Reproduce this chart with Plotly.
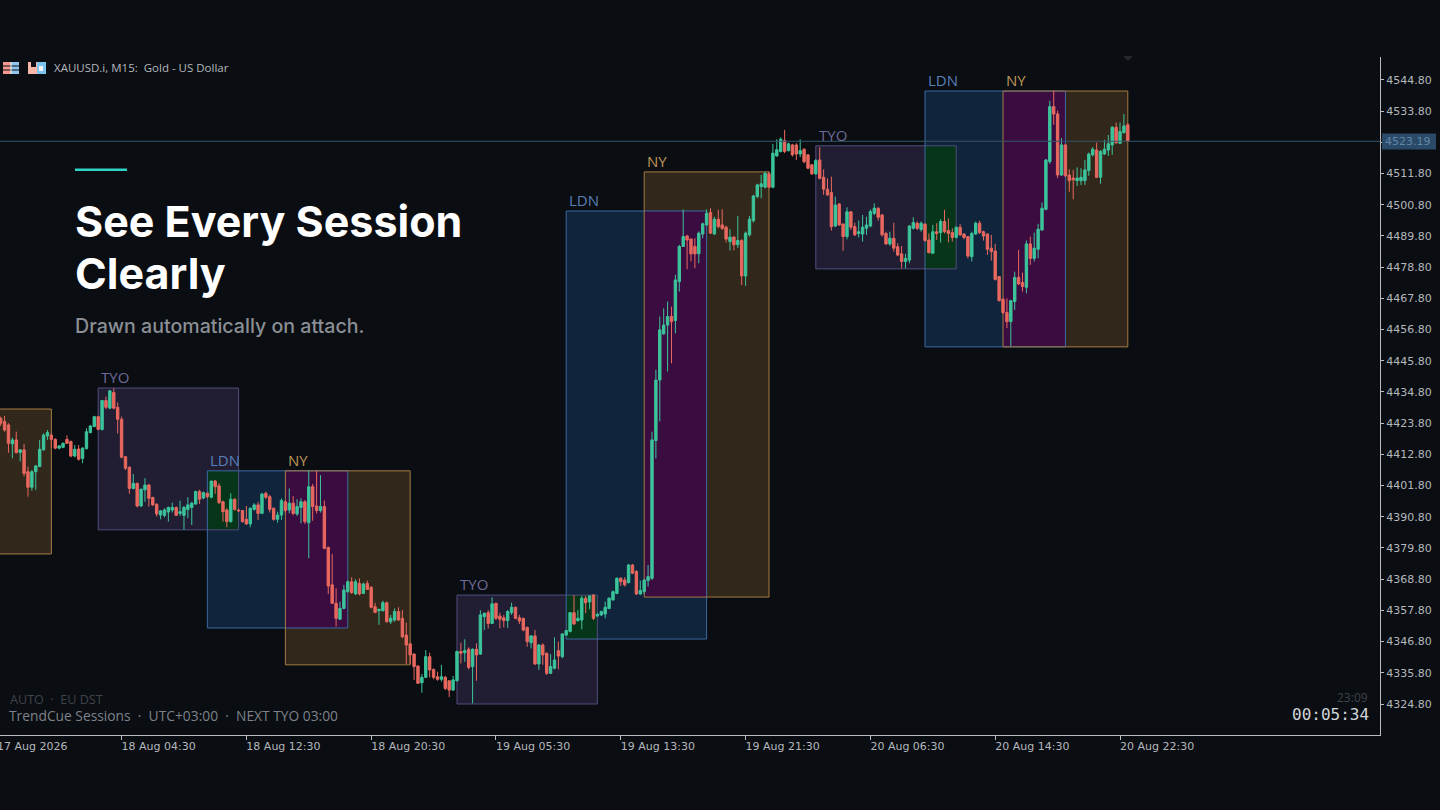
import plotly.graph_objects as go

BG = '#0a0d12'

# M15 candles, one entry per bar from the left edge
opens = [
    4425.5, 4424.4, 4423.2, 4416.5, 4417.9, 4413.5, 4414.4, 4406.7, 4401.2, 4406.7,
    4408.5, 4414.4, 4419.3, 4419.6, 4418.1, 4415.0, 4415.3, 4418.1, 4417.3, 4412.2,
    4414.7, 4411.4, 4414.8, 4420.5, 4422.6, 4426.1, 4421.6, 4431.8, 4429.1, 4434.6,
    4429.4, 4425.2, 4412.0, 4408.3, 4400.8, 4402.6, 4394.6, 4400.3, 4402.0, 4397.6,
    4395.2, 4391.4, 4391.3, 4392.5, 4393.2, 4394.1, 4392.0, 4391.3, 4393.4, 4394.1,
    4395.3, 4399.7, 4397.4, 4399.1, 4397.7, 4403.4, 4401.7, 4396.1, 4393.2, 4389.1,
    4397.0, 4393.2, 4393.0, 4389.9, 4388.3, 4393.4, 4395.0, 4392.0, 4399.1, 4397.9,
    4393.8, 4389.9, 4391.4, 4396.1, 4393.2, 4395.6, 4391.8, 4394.1, 4396.1, 4388.7,
    4401.4, 4394.6, 4393.0, 4394.4, 4380.0, 4366.8, 4360.3, 4354.7, 4358.5, 4364.4,
    4367.9, 4363.6, 4367.3, 4363.8, 4367.3, 4365.9, 4359.1, 4357.7, 4357.7, 4360.5,
    4353.8, 4354.4, 4357.4, 4355.0, 4349.1, 4346.0, 4342.4, 4338.2, 4332.3, 4334.2,
    4341.5, 4337.0, 4334.4, 4333.5, 4334.2, 4333.0, 4329.7, 4333.0, 4343.3, 4342.9,
    4344.1, 4338.0, 4344.1, 4342.4, 4355.6, 4357.0, 4353.2, 4360.3, 4355.8, 4355.2,
    4354.2, 4357.0, 4358.9, 4355.2, 4355.0, 4351.8, 4346.4, 4348.8, 4338.9, 4345.6,
    4342.7, 4335.6, 4337.4, 4343.6, 4341.5, 4349.1, 4350.4, 4357.0, 4354.2, 4354.4,
    4362.1, 4360.8, 4363.2, 4355.8, 4356.2, 4356.5, 4358.5, 4361.5, 4363.8, 4369.1,
    4368.5, 4367.6, 4373.8, 4371.5, 4363.6, 4364.4, 4368.3, 4369.1, 4417.7, 4439.0,
    4455.3, 4458.4, 4461.4, 4460.0, 4473.7, 4486.1, 4489.8, 4488.7, 4486.1, 4483.5,
    4490.5, 4493.7, 4498.1, 4490.5, 4495.7, 4493.7, 4492.9, 4487.8, 4489.4, 4486.7,
    4488.2, 4475.7, 4490.2, 4495.2, 4503.7, 4507.2, 4507.0, 4511.7, 4507.0, 4518.0,
    4519.6, 4523.4, 4519.9, 4521.9, 4521.9, 4518.7, 4520.4, 4518.4, 4514.9, 4511.7,
    4516.6, 4510.5, 4506.3, 4505.1, 4493.3, 4501.1, 4494.0, 4489.6, 4498.3, 4493.1,
    4490.7, 4490.5, 4492.5, 4493.3, 4497.8, 4499.6, 4497.2, 4490.7, 4487.0, 4489.0,
    4486.0, 4483.5, 4480.8, 4481.3, 4492.5, 4494.3, 4492.1, 4494.0, 4488.4, 4483.7,
    4491.3, 4491.0, 4494.9, 4491.7, 4491.0, 4489.3, 4492.9, 4490.5, 4489.6, 4482.5,
    4490.5, 4494.3, 4491.3, 4490.5, 4485.5, 4484.5, 4475.5, 4467.5, 4462.8, 4459.6,
    4466.7, 4475.2, 4473.4, 4471.7, 4487.0, 4481.9, 4485.1, 4491.9, 4499.2, 4516.0,
    4535.4, 4532.8, 4511.3, 4521.9, 4511.3, 4510.2, 4509.3, 4509.3, 4509.3, 4512.9,
    4518.4, 4520.1, 4510.5, 4518.7, 4520.1, 4521.9, 4528.1, 4522.5, 4526.3, 4529.0,
]
highs = [
    4426.1, 4426.4, 4423.8, 4418.7, 4420.8, 4414.6, 4416.5, 4408.5, 4407.3, 4409.1,
    4417.9, 4420.2, 4421.4, 4420.2, 4418.5, 4416.1, 4417.0, 4419.5, 4417.7, 4416.1,
    4416.1, 4415.3, 4422.0, 4423.2, 4426.4, 4426.4, 4432.0, 4433.2, 4435.5, 4436.1,
    4431.1, 4426.1, 4412.2, 4408.5, 4405.9, 4402.8, 4400.8, 4404.4, 4402.4, 4397.9,
    4395.6, 4393.2, 4393.8, 4394.4, 4395.8, 4394.4, 4396.5, 4394.6, 4397.7, 4396.1,
    4400.0, 4400.3, 4399.7, 4399.3, 4403.5, 4403.8, 4402.6, 4396.5, 4393.8, 4399.1,
    4397.3, 4393.7, 4393.2, 4394.6, 4394.1, 4395.6, 4396.1, 4399.3, 4399.7, 4398.5,
    4394.1, 4392.6, 4397.3, 4396.5, 4400.8, 4398.1, 4397.0, 4397.3, 4396.7, 4407.1,
    4402.4, 4407.1, 4405.5, 4396.5, 4380.3, 4377.7, 4365.6, 4360.9, 4366.8, 4368.3,
    4369.5, 4368.8, 4369.1, 4367.6, 4368.3, 4366.4, 4360.5, 4358.2, 4361.2, 4360.9,
    4356.2, 4358.5, 4358.9, 4357.9, 4353.5, 4346.2, 4342.7, 4338.4, 4335.4, 4343.8,
    4342.9, 4337.3, 4336.2, 4338.6, 4334.7, 4333.0, 4334.7, 4343.6, 4346.4, 4347.6,
    4344.8, 4344.4, 4346.2, 4357.9, 4357.0, 4357.9, 4362.4, 4360.5, 4357.0, 4356.2,
    4357.9, 4360.5, 4359.1, 4356.2, 4355.2, 4352.1, 4349.1, 4350.9, 4346.0, 4346.2,
    4342.9, 4342.4, 4348.3, 4346.8, 4349.7, 4350.9, 4357.2, 4363.2, 4357.9, 4362.9,
    4362.9, 4363.2, 4363.5, 4356.8, 4357.7, 4360.9, 4362.4, 4364.8, 4369.5, 4369.5,
    4369.5, 4374.2, 4374.2, 4372.0, 4368.3, 4368.8, 4373.8, 4420.8, 4442.6, 4461.4,
    4464.3, 4466.7, 4464.9, 4476.1, 4486.7, 4499.2, 4490.2, 4489.0, 4489.0, 4491.4,
    4494.5, 4499.2, 4499.6, 4496.6, 4499.0, 4499.2, 4493.4, 4492.2, 4489.8, 4496.9,
    4488.7, 4491.4, 4496.9, 4504.3, 4508.2, 4511.3, 4512.5, 4512.5, 4522.3, 4523.9,
    4524.6, 4527.2, 4522.7, 4522.3, 4522.5, 4523.9, 4520.7, 4518.7, 4515.2, 4516.9,
    4521.1, 4513.3, 4510.1, 4510.7, 4503.7, 4501.3, 4494.3, 4499.9, 4498.5, 4494.5,
    4495.2, 4497.2, 4496.6, 4499.2, 4501.3, 4499.9, 4497.6, 4491.3, 4491.3, 4494.5,
    4487.2, 4486.3, 4483.5, 4493.7, 4496.4, 4494.9, 4494.9, 4494.3, 4490.7, 4493.7,
    4494.3, 4495.7, 4499.0, 4496.0, 4492.5, 4493.1, 4494.0, 4490.7, 4489.8, 4491.3,
    4494.9, 4495.2, 4491.7, 4490.7, 4490.2, 4487.0, 4475.7, 4467.8, 4467.8, 4467.3,
    4477.2, 4484.9, 4476.9, 4488.2, 4489.6, 4491.0, 4494.1, 4501.6, 4516.9, 4537.5,
    4541.1, 4534.0, 4524.3, 4522.3, 4513.3, 4513.1, 4514.0, 4513.7, 4516.6, 4519.2,
    4521.1, 4522.7, 4520.1, 4523.7, 4525.4, 4528.6, 4529.8, 4529.8, 4532.8, 4529.6,
]
lows = [
    4422.8, 4420.8, 4413.4, 4411.4, 4413.2, 4410.3, 4405.0, 4397.9, 4400.0, 4400.3,
    4408.5, 4414.1, 4417.9, 4415.0, 4414.6, 4414.6, 4415.0, 4416.5, 4411.8, 4411.8,
    4410.6, 4409.7, 4414.6, 4420.2, 4422.4, 4421.4, 4421.2, 4428.7, 4428.7, 4428.7,
    4420.2, 4411.4, 4407.3, 4398.9, 4400.5, 4394.1, 4394.4, 4396.1, 4394.4, 4394.6,
    4390.9, 4389.9, 4390.6, 4389.1, 4392.3, 4391.1, 4391.1, 4386.2, 4390.3, 4387.9,
    4395.0, 4395.3, 4397.0, 4397.3, 4397.3, 4398.9, 4395.3, 4389.1, 4387.1, 4388.7,
    4393.0, 4392.5, 4388.7, 4387.9, 4387.1, 4393.0, 4389.7, 4391.8, 4397.0, 4392.3,
    4389.4, 4388.7, 4389.7, 4392.3, 4392.0, 4391.4, 4391.1, 4388.5, 4388.3, 4376.2,
    4389.4, 4392.0, 4392.3, 4379.3, 4363.6, 4360.1, 4352.1, 4354.4, 4358.2, 4364.1,
    4363.6, 4363.2, 4363.1, 4363.6, 4365.0, 4358.5, 4356.8, 4352.7, 4357.4, 4353.5,
    4353.0, 4353.8, 4354.2, 4348.0, 4338.9, 4338.9, 4333.3, 4331.9, 4328.8, 4333.9,
    4334.2, 4333.5, 4333.0, 4332.7, 4329.7, 4327.2, 4329.5, 4332.7, 4339.1, 4339.7,
    4337.0, 4325.0, 4333.0, 4342.1, 4350.9, 4351.4, 4353.0, 4354.4, 4351.5, 4351.8,
    4351.6, 4356.2, 4354.7, 4353.0, 4350.4, 4345.0, 4344.4, 4338.6, 4336.8, 4338.6,
    4335.0, 4335.4, 4337.0, 4337.0, 4340.9, 4348.8, 4350.0, 4352.7, 4353.8, 4351.1,
    4356.8, 4358.2, 4354.4, 4355.6, 4355.8, 4355.0, 4358.2, 4361.2, 4363.5, 4366.4,
    4366.2, 4367.3, 4370.6, 4363.2, 4363.2, 4363.6, 4366.2, 4368.5, 4411.4, 4424.4,
    4454.9, 4442.0, 4444.9, 4455.5, 4470.2, 4486.1, 4478.1, 4480.8, 4478.4, 4480.2,
    4489.0, 4493.4, 4490.5, 4490.2, 4492.5, 4491.9, 4487.5, 4484.7, 4484.7, 4485.5,
    4472.5, 4472.2, 4489.6, 4494.5, 4503.1, 4503.1, 4506.6, 4506.6, 4506.6, 4517.8,
    4519.2, 4519.0, 4519.6, 4517.8, 4516.6, 4517.6, 4515.4, 4513.3, 4511.3, 4511.3,
    4509.8, 4504.3, 4503.9, 4491.7, 4492.9, 4493.3, 4484.6, 4488.6, 4491.9, 4489.8,
    4489.3, 4487.8, 4490.2, 4492.9, 4497.2, 4495.2, 4489.6, 4486.6, 4486.3, 4484.3,
    4482.7, 4478.4, 4478.4, 4480.2, 4492.1, 4491.9, 4491.3, 4487.8, 4483.7, 4483.5,
    4488.4, 4487.5, 4490.7, 4487.5, 4487.8, 4489.0, 4489.8, 4488.6, 4481.9, 4480.8,
    4490.2, 4490.5, 4488.2, 4483.1, 4481.1, 4474.1, 4466.7, 4462.3, 4457.3, 4451.0,
    4463.7, 4472.5, 4470.2, 4469.6, 4479.6, 4480.8, 4481.9, 4491.7, 4498.8, 4515.2,
    4529.0, 4510.2, 4511.0, 4510.7, 4505.4, 4502.7, 4507.4, 4507.8, 4507.8, 4511.0,
    4517.8, 4510.2, 4508.2, 4518.4, 4518.0, 4518.4, 4522.3, 4522.3, 4525.8, 4523.1,
]
closes = [
    4423.8, 4421.4, 4416.7, 4417.9, 4413.4, 4414.4, 4406.1, 4401.2, 4406.7, 4408.7,
    4414.6, 4419.6, 4420.5, 4418.1, 4415.0, 4415.8, 4416.7, 4416.7, 4412.2, 4414.6,
    4411.1, 4415.0, 4420.8, 4422.8, 4426.1, 4421.6, 4431.8, 4429.4, 4435.2, 4429.1,
    4425.2, 4411.8, 4407.9, 4400.8, 4402.6, 4394.6, 4400.5, 4402.0, 4397.3, 4395.0,
    4391.8, 4392.9, 4393.2, 4394.1, 4394.1, 4391.3, 4392.6, 4394.1, 4395.0, 4395.6,
    4399.7, 4397.0, 4399.3, 4397.9, 4403.4, 4401.4, 4395.8, 4392.6, 4389.1, 4397.0,
    4393.4, 4392.9, 4389.1, 4388.3, 4393.8, 4395.0, 4392.0, 4398.8, 4397.7, 4393.4,
    4389.9, 4391.4, 4396.5, 4393.0, 4395.6, 4392.0, 4394.4, 4396.1, 4389.1, 4401.4,
    4394.4, 4393.0, 4394.4, 4379.7, 4366.4, 4360.3, 4355.0, 4358.5, 4365.0, 4367.9,
    4364.1, 4367.9, 4363.6, 4367.1, 4365.2, 4358.9, 4357.1, 4358.2, 4360.5, 4353.8,
    4355.0, 4357.4, 4354.4, 4348.5, 4345.6, 4342.1, 4338.0, 4332.1, 4334.2, 4341.5,
    4336.8, 4334.2, 4333.5, 4334.4, 4330.3, 4329.7, 4333.3, 4343.3, 4342.7, 4343.6,
    4337.7, 4344.1, 4342.1, 4356.2, 4356.8, 4353.2, 4360.1, 4355.0, 4354.7, 4354.2,
    4357.4, 4358.9, 4355.0, 4354.1, 4350.9, 4346.8, 4348.8, 4338.9, 4345.6, 4342.1,
    4335.6, 4338.0, 4340.3, 4341.7, 4349.5, 4350.7, 4357.0, 4353.0, 4355.0, 4362.1,
    4360.5, 4362.9, 4355.0, 4356.4, 4357.4, 4358.9, 4362.1, 4364.4, 4369.1, 4367.9,
    4366.8, 4373.8, 4370.9, 4363.6, 4364.8, 4368.5, 4369.7, 4417.9, 4439.0, 4456.7,
    4458.4, 4461.4, 4459.6, 4474.3, 4486.1, 4489.6, 4488.4, 4483.5, 4483.5, 4490.8,
    4494.1, 4497.8, 4490.8, 4495.7, 4493.1, 4492.5, 4488.7, 4489.4, 4486.7, 4488.2,
    4475.7, 4490.8, 4495.7, 4503.9, 4507.8, 4508.2, 4511.9, 4507.0, 4519.0, 4520.2,
    4523.9, 4519.6, 4522.3, 4518.4, 4518.7, 4519.9, 4516.0, 4513.7, 4511.7, 4516.4,
    4510.1, 4506.3, 4504.3, 4493.1, 4500.7, 4493.7, 4489.6, 4498.3, 4492.9, 4490.2,
    4491.3, 4492.9, 4493.7, 4498.4, 4499.6, 4496.4, 4490.2, 4487.0, 4489.0, 4485.5,
    4483.1, 4480.8, 4481.9, 4493.3, 4494.5, 4492.5, 4494.3, 4488.2, 4483.9, 4491.3,
    4490.7, 4494.9, 4491.3, 4490.7, 4489.3, 4492.9, 4490.2, 4489.3, 4482.7, 4490.7,
    4494.3, 4491.0, 4489.8, 4485.1, 4484.3, 4474.5, 4467.0, 4462.8, 4459.6, 4467.0,
    4475.2, 4472.9, 4472.0, 4487.0, 4481.9, 4485.5, 4492.2, 4499.6, 4516.6, 4535.4,
    4532.8, 4511.3, 4521.9, 4511.0, 4509.3, 4509.6, 4510.2, 4510.5, 4513.1, 4518.7,
    4520.4, 4510.5, 4519.6, 4520.4, 4522.3, 4528.1, 4522.7, 4526.6, 4528.6, 4523.19,
]

# Sessions: name, first bar, last bar, top price, bottom price
session_names = ['NY', 'TYO', 'LDN', 'NY', 'TYO', 'LDN', 'NY', 'TYO', 'LDN', 'NY']
session_start = [-20, 25, 53, 73, 117, 145, 165, 209, 237, 257]
session_end = [13, 61, 89, 105, 153, 181, 197, 245, 273, 289]
session_high = [4428.8, 4436.2, 4407.0, 4407.0, 4363.2, 4498.6, 4512.4, 4521.6, 4540.9, 4540.9]
session_low = [4377.7, 4386.2, 4351.6, 4338.6, 4324.8, 4347.7, 4362.5, 4478.2, 4450.7, 4450.7]

price_ticks = [4324.8, 4335.8, 4346.8, 4357.8, 4368.8, 4379.8, 4390.8, 4401.8, 4412.8, 4423.8,
               4434.8, 4445.8, 4456.8, 4467.8, 4478.8, 4489.8, 4500.8, 4511.8, 4522.8, 4533.8, 4544.8]
time_ticks = [31, 63, 95, 127, 159, 191, 223, 255, 287]
time_labels = ['18 Aug 04:30', '18 Aug 12:30', '18 Aug 20:30', '19 Aug 05:30', '19 Aug 13:30',
               '19 Aug 21:30', '20 Aug 06:30', '20 Aug 14:30', '20 Aug 22:30']
last_price = 4523.19

session_fill = {'TYO': '#211e34', 'LDN': '#10243c', 'NY': '#32271b'}
session_line = {'TYO': '#514d7c', 'LDN': '#3d68a3', 'NY': '#a67c45'}
session_text = {'TYO': '#6d6a9a', 'LDN': '#5a7fb6', 'NY': '#bf9558'}
overlap_fill = {'TYO': '#06351a', 'NY': '#3a0c40'}


# page pixels to paper fractions, for the furniture around the chart
def px(x):
    return x / 1380


def py(y):
    return (735 - y) / 678


def note(x, y, text, size, color, family='DejaVu Sans', anchor='left', weight=None):
    # annotations sit about a pixel inside their anchor
    x = x - 1 if anchor == 'left' else x + 1.5
    fig.add_annotation(xref='paper', yref='paper', x=px(x), y=py(y), text=text, showarrow=False,
                       xanchor=anchor, yanchor='middle', borderpad=0,
                       font=dict(size=size, color=color, family=family, weight=weight))


def pixel_rect(x0, y0, x1, y1, color):
    fig.add_shape(type='rect', xref='paper', yref='paper', x0=px(x0), x1=px(x1), y0=py(y0), y1=py(y1),
                  fillcolor=color, line_width=0, layer='above')


fig = go.Figure(data=[go.Candlestick(
    x=list(range(len(opens))),
    open=opens,
    high=highs,
    low=lows,
    close=closes,
    increasing=dict(line=dict(color='#3cc49b', width=1), fillcolor='#3cc49b'),
    decreasing=dict(line=dict(color='#e8685f', width=1), fillcolor='#e8685f'),
    showlegend=False,
    hoverinfo='skip',
)])

# Session boxes, the overlapping part gets its own colour like in the terminal
for i, name in enumerate(session_names):
    fig.add_shape(type='rect', x0=session_start[i], x1=session_end[i], y0=session_low[i], y1=session_high[i],
                  fillcolor=session_fill[name], line_width=0, layer='below')
for i, name in enumerate(session_names):
    if name != 'LDN':
        continue
    for j in (i - 1, i + 1):
        x0 = max(session_start[i], session_start[j])
        x1 = min(session_end[i], session_end[j])
        y0 = max(session_low[i], session_low[j])
        y1 = min(session_high[i], session_high[j])
        if x1 > x0 and y1 > y0:
            fig.add_shape(type='rect', x0=x0, x1=x1, y0=y0, y1=y1,
                          fillcolor=overlap_fill[session_names[j]], line_width=0, layer='below')
for i, name in enumerate(session_names):
    fig.add_shape(type='rect', x0=session_start[i], x1=session_end[i], y0=session_low[i], y1=session_high[i],
                  fillcolor='rgba(0,0,0,0)', line=dict(color=session_line[name], width=1), layer='below')
    if session_start[i] > 0:
        fig.add_annotation(x=session_start[i], y=session_high[i], text=name, showarrow=False,
                           xanchor='left', yanchor='bottom', xshift=1, yshift=-1,
                           font=dict(size=15, color=session_text[name], family='Open Sans', weight=500))

fig.add_hline(y=last_price, line_width=1, line_color='#35566b', layer='above')

# Headline block
fig.add_shape(type='rect', xref='paper', yref='paper', x0=px(75), x1=px(127), y0=py(171), y1=py(168.5),
              fillcolor='#2ed3c6', line_width=0, layer='above')
note(75, 221, 'See Every Session', 43, '#ffffff', family='Inter', weight=700)
note(75, 273, 'Clearly', 43, '#ffffff', family='Inter', weight=700)
note(75, 326, 'Drawn automatically on attach.', 19.6, '#8a8f95', family='Inter', weight=500)

# Terminal texts
note(54, 68, 'XAUUSD.i, M15:  Gold - US Dollar', 11.5, '#b4b8bd', family='Open Sans')
note(10, 699, 'AUTO  ·  EU DST', 12.6, '#3f444a', family='Open Sans')
note(9, 715, 'TrendCue Sessions  ·  UTC+03:00  ·  NEXT TYO 03:00', 13.8, '#7d8389', family='Open Sans')
note(1367, 697, '23:09', 12, '#3f444a', family='Open Sans', anchor='right')
note(1368, 714, '00:05:34', 16, '#d2d5d9', family='DejaVu Sans Mono', anchor='right')
note(-3, 746, '17 Aug 2026', 11, '#b4b8bd')

# Current price tag
pixel_rect(1382, 133.5, 1436, 149.5, '#2a4a68')
note(1385, 141.5, '{:.2f}'.format(last_price), 11, '#5f86a8')

# Little chart icons next to the symbol
pixel_rect(3, 62, 11, 74, '#f29a90')
pixel_rect(11, 62, 19, 74, '#8fc6ee')
pixel_rect(3, 65.5, 19, 66.5, '#0a0d12')
pixel_rect(3, 69.5, 19, 70.5, '#0a0d12')
pixel_rect(10.5, 62, 11.5, 74, '#f4f4f4')
pixel_rect(28, 62, 37, 74, '#f6b7a8')
pixel_rect(37, 62, 46, 74, '#7cc4f0')
pixel_rect(31, 62, 36, 67, '#0a0d12')
pixel_rect(39, 66, 43, 71, '#f4f4f4')

# Small marker above the last session
fig.add_shape(type='path', xref='paper', yref='paper',
              path='M {} {} L {} {} L {} {} Z'.format(px(1123), py(56), px(1133), py(56), px(1128), py(61)),
              fillcolor='#23272c', line_width=0, layer='above')

fig.update_layout(
    width=1440,
    height=810,
    autosize=False,
    margin=dict(l=0, r=60, t=57, b=75),
    paper_bgcolor=BG,
    plot_bgcolor=BG,
    showlegend=False,
    hovermode=False,
    boxgap=0.12,
    font=dict(family='DejaVu Sans', size=11, color='#b4b8bd'),
    xaxis=dict(
        range=[-0.17, 353.66],
        rangeslider=dict(visible=False),
        tickmode='array',
        tickvals=time_ticks,
        ticktext=time_labels,
        ticks='outside',
        ticklen=4,
        tickwidth=1,
        tickcolor='#b9bdc2',
        ticklabelposition='outside right',
        ticklabelshift=-1,
        ticklabelstandoff=1,
        showgrid=False,
        zeroline=False,
        showline=True,
        linecolor='#b9bdc2',
        linewidth=1,
    ),
    yaxis=dict(
        side='right',
        range=[4313.87, 4552.9],
        tickmode='array',
        tickvals=price_ticks,
        tickformat='.2f',
        ticks='outside',
        ticklen=3,
        tickwidth=1,
        tickcolor='#b9bdc2',
        showgrid=False,
        zeroline=False,
        showline=True,
        linecolor='#b9bdc2',
        linewidth=1,
    ),
)

fig.write_html('out.html', config={'displayModeBar': False},
               post_script="document.body.style.margin='0';document.body.style.background='#0a0d12';")
